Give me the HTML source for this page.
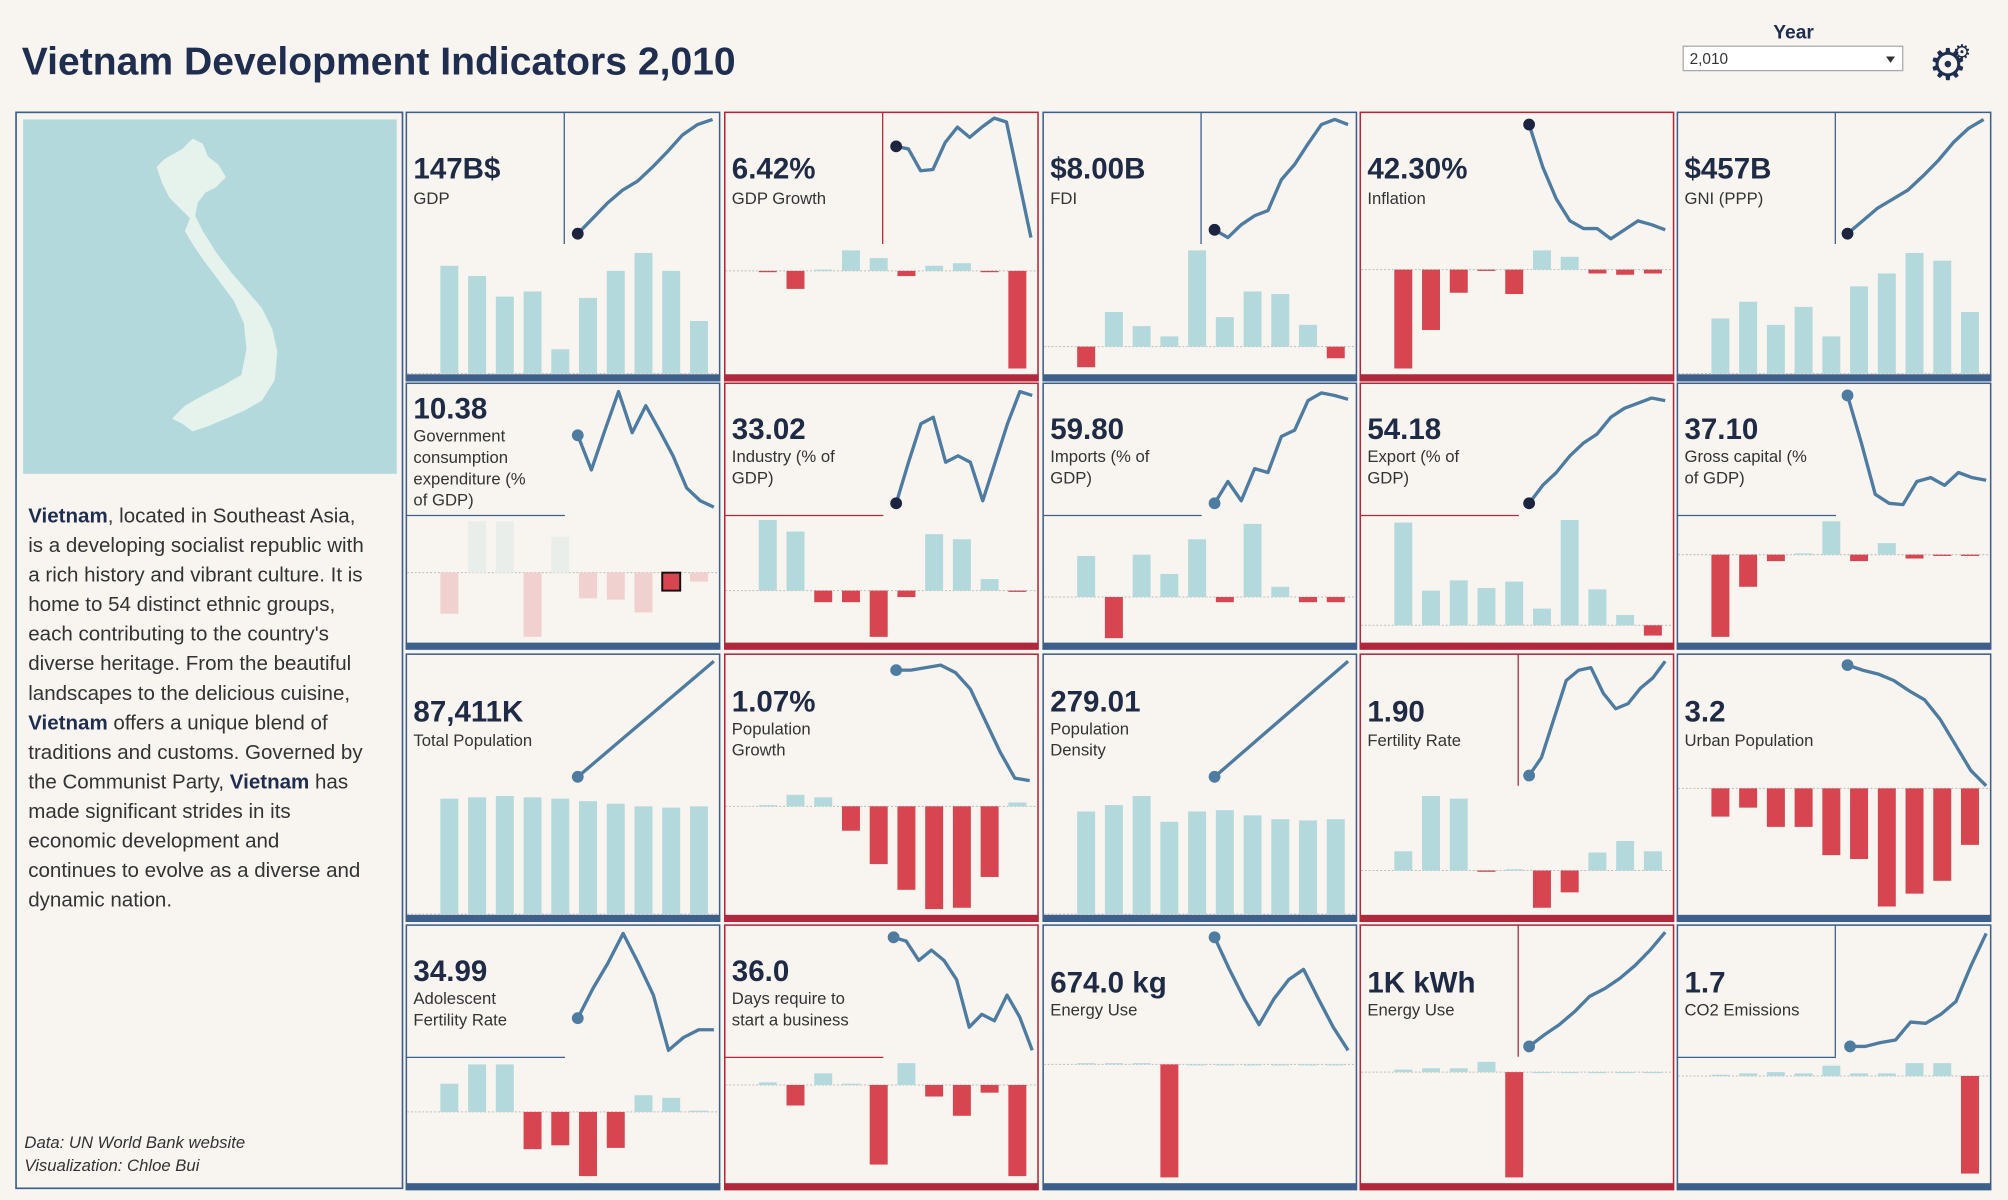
<!DOCTYPE html>
<html><head><meta charset="utf-8">
<style>
html,body{margin:0;padding:0;background:#f8f5f1;}
svg{display:block;}
text{font-family:"Liberation Sans",Arial,sans-serif;}
</style></head>
<body>
<svg id="root" xmlns="http://www.w3.org/2000/svg" width="2008" height="1200" viewBox="0 0 1564 934.6" preserveAspectRatio="none">
<rect x="0" y="0" width="1564" height="937" fill="#f8f5f1"/>
<text x="17" y="58" font-size="30" font-weight="bold" fill="#1f2d4e" textLength="556" lengthAdjust="spacingAndGlyphs">Vietnam Development Indicators 2,010</text>
<text x="1397" y="30" font-size="15" font-weight="bold" fill="#1f2d4e" text-anchor="middle">Year</text>
<g>
<rect x="1311" y="36" width="171" height="19" fill="#ffffff" stroke="#aaaaaa" stroke-width="1"/>
<text x="1316" y="50" font-size="12" fill="#333">2,010</text>
<path d="M1469,44 L1476,44 L1472.5,49 Z" fill="#333"/>
</g>
<g fill="#1f2d4e">
<text x="1502" y="62" font-size="34" font-family="DejaVu Sans,sans-serif">⚙</text>
<text x="1521" y="46" font-size="16" font-family="DejaVu Sans,sans-serif">⚙</text>
</g>
<g>
<rect x="12.5" y="87.5" width="301" height="838" fill="none" stroke="#3d5f8a" stroke-width="1.3"/>
<rect x="18" y="93" width="291" height="276" fill="#b3d9dc"/>
<polygon fill="#e6f2ec" points="133,121 142,116 150,108 158,112 162,122 170,128 176,138 168,146 160,150 154,158 152,168 158,180 168,196 180,212 192,226 204,240 212,256 216,274 214,296 204,312 190,320 176,326 162,332 150,336 142,330 134,326 144,316 158,308 174,300 188,292 192,272 190,252 182,234 170,218 158,202 150,190 144,180 148,170 140,162 132,154 126,142 122,130 128,124"/>
<g font-size="16" fill="#333">
<text x="22" y="407"><tspan font-weight="bold" fill="#1f2d4e">Vietnam</tspan>, located in Southeast Asia,</text>
<text x="22" y="430">is a developing socialist republic with</text>
<text x="22" y="453">a rich history and vibrant culture. It is</text>
<text x="22" y="476">home to 54 distinct ethnic groups,</text>
<text x="22" y="499">each contributing to the country's</text>
<text x="22" y="522">diverse heritage. From the beautiful</text>
<text x="22" y="545">landscapes to the delicious cuisine,</text>
<text x="22" y="568"><tspan font-weight="bold" fill="#1f2d4e">Vietnam</tspan> offers a unique blend of</text>
<text x="22" y="591">traditions and customs. Governed by</text>
<text x="22" y="614">the Communist Party, <tspan font-weight="bold" fill="#1f2d4e">Vietnam</tspan> has</text>
<text x="22" y="637">made significant strides in its</text>
<text x="22" y="660">economic development and</text>
<text x="22" y="683">continues to evolve as a diverse and</text>
<text x="22" y="706">dynamic nation.</text>
</g>
<text x="19" y="894" font-size="13" font-style="italic" fill="#333">Data: UN World Bank website</text>
<text x="19" y="912" font-size="13" font-style="italic" fill="#333">Visualization: Chloe Bui</text>
</g>
<g id="tiles"></g>
</svg>
<script>
// ---- data: line series (trend values) ----
const gdpLine=[818,830,842,852,859,870,882,895,903,907];
const gdpGrowthLine=[886,884,867,868,889,901,893,901,908,905,860,815];
const fdiLine=[821,815,825,832,836,860,872,888,903,907,903];
const inflationLine=[903,870,845,828,822,822,814,821,828,825,821];
const gniLine=[818,828,838,845,852,863,875,889,900,907];
const govLine=[661,634,665,695,663,684,665,645,620,610,605];
const industryLine=[608,640,670,675,640,645,640,610,640,670,695,692];
const importsLine=[608,625,610,635,632,660,665,688,694,692,689];
const exportLine=[608,622,632,645,655,662,675,682,686,690,688];
const grossCapLine=[692,655,615,608,607,625,628,622,632,628,626];
const totPopLine=[395,405,415,425,435,445,455,465,475,485];
const popGrowthLine=[480,480,482,484,478,465,440,415,394,392];
const densityLine=[395,405,415,425,435,445,455,465,475,485];
const fertilityLine=[396,410,440,470,478,480,460,448,452,464,472,485];
const urbanLine=[482,478,475,470,462,455,440,420,400,388];
const adolLine=[207,230,250,273,250,225,182,192,198,198];
const daysLine=[270,267,252,260,252,237,200,210,205,225,208,182];
const energyLine=[270,245,222,202,222,237,245,222,200,182];
const kwhLine=[185,194,202,212,224,230,238,248,260,274];
const co2Line=[185,185,188,190,204,203,210,220,248,273];
// ---- data: bar series (changes) ----
const gdpBars=[84,76,60,64,19,59,80,94,80,41];
const gdpGrowthBars=[-1,-14,1,16,10,-4,4,6,-1,-76];
const fdiBars=[-16,27,16,8,75,23,43,41,17,-9];
const inflationBars=[-77,-47,-18,-1,-19,15,10,-3,-4,-3];
const gniBars=[43,56,38,52,29,68,78,94,88,48];
const govBars=[-32,40,40,-50,28,-20,-21,-31,-14,-7];
const industryBars=[55,46,-9,-9,-36,-5,44,40,9,-1];
const importsBars=[32,-32,33,18,45,-4,57,8,-4,-4];
const exportBars=[80,27,35,29,34,13,82,28,8,-8];
const grossCapBars=[-64,-25,-5,1,26,-5,9,-3,-1,-1];
const totPopBars=[90,91,92,91,90,88,86,84,83,84];
const popGrowthBars=[1,9,7,-19,-45,-65,-80,-79,-55,3];
const densityBars=[80,85,92,72,80,81,77,74,73,74];
const fertilityBars=[15,58,56,-1,1,-29,-17,14,23,15];
const urbanBars=[-22,-15,-30,-30,-52,-55,-92,-82,-72,-44];
const adolBars=[22,37,37,-29,-26,-50,-28,13,11,1];
const daysBars=[2,-16,9,1,-62,17,-9,-24,-6,-71];
const energyBars=[1,1,1,-88,0,0,0,0,0,0];
const kwhBars=[2,3,3,8,-82,0,0,0,0,0];
const co2Bars=[1,2,3,2,8,2,2,10,10,-76];
// ---- data: KPI labels ----
const kpiValues=['147B$','6.42%','$8.00B','42.30%','$457B','10.38','33.02','59.80','54.18','37.10','87,411K','1.07%','279.01','1.90','3.2','34.99','36.0','674.0 kg','1K kWh','1.7'];
const kpiLabels=[['GDP'],['GDP Growth'],['FDI'],['Inflation'],['GNI (PPP)'],['Government','consumption','expenditure (%','of GDP)'],['Industry (% of','GDP)'],['Imports (% of','GDP)'],['Export (% of','GDP)'],['Gross capital (%','of GDP)'],['Total Population'],['Population','Growth'],['Population','Density'],['Fertility Rate'],['Urban Population'],['Adolescent','Fertility Rate'],['Days require to','start a business'],['Energy Use'],['Energy Use'],['CO2 Emissions']];

// ---- layout (positions only) ----
const colX=[316,564,812,1059,1306], rowY=[87,298,509,720], TW=244, TH=[209,207,208,206];
const series=[
 [gdpLine,gdpBars],[gdpGrowthLine,gdpGrowthBars],[fdiLine,fdiBars],[inflationLine,inflationBars],[gniLine,gniBars],
 [govLine,govBars],[industryLine,industryBars],[importsLine,importsBars],[exportLine,exportBars],[grossCapLine,grossCapBars],
 [totPopLine,totPopBars],[popGrowthLine,popGrowthBars],[densityLine,densityBars],[fertilityLine,fertilityBars],[urbanLine,urbanBars],
 [adolLine,adolBars],[daysLine,daysBars],[energyLine,energyBars],[kwhLine,kwhBars],[co2Line,co2Bars]];
const lay=[
 [134,239,6,95,204,52,72,'v'],[134,239,5,98,124,52,72,'v'],[134,238,6,98,183,52,72,'v'],[132,238,10,99,123,52,72,''],[133,239,6,95,204,52,72,'v'],
 [134,240,7,97,148,28,46,'h'],[134,240,7,94,162,44,62,'h'],[134,238,8,94,167,44,62,'h'],[132,238,12,94,189,44,62,'h'],[133,241,10,95,134,44,62,'h'],
 [134,240,6,96,203,53,72,''],[134,238,9,99,119,45,63,''],[134,238,6,96,203,45,63,''],[132,238,6,95,169,53,72,'v'],[133,241,9,103,105,53,72,''],
 [134,240,7,98,146,44,62,'h'],[132,240,10,98,125,44,62,'h'],[134,238,10,98,109,53,71,''],[132,238,6,95,115,53,71,'v'],[135,241,7,95,118,53,71,'vh']];
const selected={5:8};
const darkDot=[0,1,2,3,4,6,8];
const NS='http://www.w3.org/2000/svg';
const root=document.getElementById('tiles');
function mk(tag,attrs,parent){const e=document.createElementNS(NS,tag);for(const k in attrs)e.setAttribute(k,attrs[k]);parent.appendChild(e);return e;}
const names=['gdp','gdp-growth','fdi','inflation','gni','gov-consumption','industry','imports','export','gross-capital','total-population','population-growth','population-density','fertility-rate','urban-population','adolescent-fertility','days-start-business','energy-use','energy-use-kwh','co2-emissions'];
series.forEach((s,i)=>{
 const c=i%5,r=Math.floor(i/5),x0=colX[c],y0=rowY[r],h=TH[r];
 const col=(c===1||c===3)?'#b0283c':'#3d5f8a';
 const L=lay[i];
 const g=mk('g',{},root);
 
 
 const fr=mk('rect',{x:x0+0.5,y:y0+0.5,width:TW,height:h,fill:'none',stroke:col,'stroke-width':1.2},g);
 
 
 const bb=mk('rect',{x:x0,y:y0+h-4.5,width:TW+1,height:5,fill:col},g);
 
 
 if(L[7].includes('v')){const d=mk('line',{x1:x0+123.5,y1:y0,x2:x0+123.5,y2:y0+103,stroke:col,'stroke-width':1},g);
  
  }
 if(L[7].includes('h')){const d=mk('line',{x1:x0,y1:y0+103.5,x2:x0+124,y2:y0+103.5,stroke:col,'stroke-width':1},g);
  
  }
 const vt=mk('text',{x:x0+6,y:y0+L[5],'font-size':23,'font-weight':'bold',fill:'#1f2a44'},g);vt.textContent=kpiValues[i];
 
 
 kpiLabels[i].forEach((t,j)=>{const lt=mk('text',{x:x0+6,y:y0+L[6]+j*16.6,'font-size':13,fill:'#333'},g);lt.textContent=t;
  
  });
 const bars=s[1],zero=y0+L[4];
 const zl=mk('line',{x1:x0+1,y1:zero,x2:x0+TW,y2:zero,stroke:'#bbbbbb','stroke-width':0.8,'stroke-dasharray':'1.5,1.5'},g);
 
 
 const yb=v=>zero-v;
 const sel=selected[i];
 bars.forEach((v,k)=>{
  const bx=x0+27+k*21.6;
  const top=Math.min(yb(v),zero),hh=Math.max(Math.abs(yb(v)-zero),0.8);
  let fill=v>=0?'#b3d9dc':'#d64550';
  if(sel!==undefined&&k!==sel) fill=v>=0?'#e9eeeb':'#f1d0d0';
  const b=mk('rect',{x:bx,y:top,width:14,height:hh,fill:fill},g);
  if(sel===k){b.setAttribute('stroke','#111');b.setAttribute('stroke-width','1.5');}
  
  
 });
 const ln=s[0],mn=Math.min(...ln),mx=Math.max(...ln);
 const xs=k=>x0+L[0]+(L[1]-L[0])*k/(ln.length-1);
 const ys=v=>y0+L[2]+(mx-v)/((mx-mn)||1)*(L[3]-L[2]);
 const p=mk('polyline',{points:ln.map((v,k)=>xs(k)+','+ys(v)).join(' '),fill:'none',stroke:'#4e7ba0','stroke-width':2.6,'stroke-linejoin':'round'},g);
 
 
 const dot=mk('circle',{cx:xs(0),cy:ys(ln[0]),r:4.6,fill:darkDot.includes(i)?'#1d2440':'#4e7ba0'},g);
 
 
});
</script>
</body></html>
